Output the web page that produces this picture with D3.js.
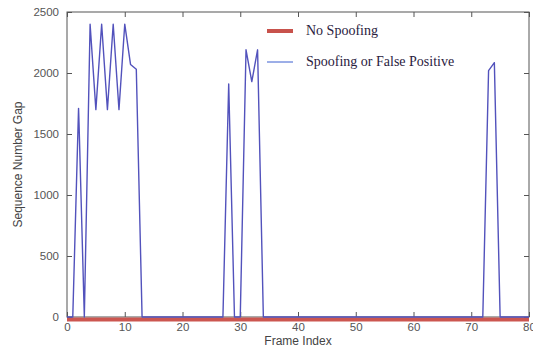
<!DOCTYPE html>
<html>
<head>
<meta charset="utf-8">
<script src="https://cdn.jsdelivr.net/npm/d3@7"></script>
<style>
  body { margin: 0; background: #fff; }
  svg { display: block; }
</style>
</head>
<body>
<div id="chart"></div>
<script>
// spoofing / false positive series
var spoofFrames = [0, 1, 2, 2.1, 3, 4, 5, 6, 7, 8, 9, 10, 11, 12, 13, 27, 28, 29, 30, 31, 32, 33, 34, 72, 73, 74, 75, 80];
var spoofGaps   = [0, 0, 1710, 1560, 0, 2400, 1700, 2400, 1700, 2400, 1700, 2400, 2070, 2030, 0, 0, 1910, 0, 0, 2190, 1930, 2190, 0, 0, 2020, 2085, 0, 0];

// no spoofing series: flat zero
var noSpoofFrames = [0, 80];
var noSpoofGaps   = [0, 0];

var xTicks = [0, 10, 20, 30, 40, 50, 60, 70, 80];
var yTicks = [0, 500, 1000, 1500, 2000, 2500];
var legendLabels = ['No Spoofing', 'Spoofing or False Positive'];

var width = 533, height = 351;
var margin = {left: 67, right: 4, top: 12, bottom: 34};

var svg = d3.select('#chart').append('svg')
  .attr('width', width)
  .attr('height', height);

var x = d3.scaleLinear().domain([0, 80]).range([margin.left, width - margin.right]);
var y = d3.scaleLinear().domain([0, 2500]).range([height - margin.bottom, margin.top]);

var axisColor = '#555';
var tickFont = '"Liberation Sans", Arial, sans-serif';

// frame box
svg.append('rect')
  .attr('x', x(0)).attr('y', y(2500))
  .attr('width', x(80) - x(0)).attr('height', y(0) - y(2500))
  .attr('fill', 'none')
  .attr('stroke', axisColor)
  .attr('stroke-width', 1);

// axes with inward ticks (matlab style)
function styleAxis(g) {
  g.select('.domain').remove();
  g.selectAll('.tick line').attr('stroke', axisColor);
  g.selectAll('.tick text')
    .attr('fill', '#555')
    .attr('font-family', tickFont)
    .attr('font-size', '11.5px');
}

svg.append('g')
  .attr('transform', 'translate(0,' + y(0) + ')')
  .call(d3.axisBottom(x).tickValues(xTicks).tickFormat(d3.format('d')).tickSizeInner(-5).tickPadding(6))
  .call(styleAxis);

svg.append('g')
  .attr('transform', 'translate(0,' + y(2500) + ')')
  .call(d3.axisTop(x).tickValues(xTicks).tickSizeInner(-5).tickFormat(''))
  .call(styleAxis);

svg.append('g')
  .attr('transform', 'translate(' + x(0) + ',0)')
  .call(d3.axisLeft(y).tickValues(yTicks).tickFormat(d3.format('d')).tickSizeInner(-5).tickPadding(8))
  .call(styleAxis);

svg.append('g')
  .attr('transform', 'translate(' + x(80) + ',0)')
  .call(d3.axisRight(y).tickValues(yTicks).tickSizeInner(-5).tickFormat(''))
  .call(styleAxis);

// axis titles
svg.append('text')
  .attr('x', (x(0) + x(80)) / 2)
  .attr('y', 345)
  .attr('text-anchor', 'middle')
  .attr('font-family', tickFont)
  .attr('font-size', '12px')
  .attr('fill', '#444')
  .text('Frame Index');

svg.append('text')
  .attr('transform', 'translate(22,' + ((y(0) + y(2500)) / 2) + ') rotate(-90)')
  .attr('text-anchor', 'middle')
  .attr('font-family', tickFont)
  .attr('font-size', '12px')
  .attr('fill', '#444')
  .text('Sequence Number Gap');

var line = d3.line()
  .x(function(d) { return x(d[0]); })
  .y(function(d) { return y(d[1]); });

// red no spoofing line, thick, sits just under the zero line
svg.append('path')
  .datum(d3.zip(noSpoofFrames, noSpoofGaps))
  .attr('d', line)
  .attr('transform', 'translate(0,2.5)')
  .attr('fill', 'none')
  .attr('stroke', '#cc5650')
  .attr('stroke-width', 4);

svg.append('path')
  .datum(d3.zip(spoofFrames, spoofGaps))
  .attr('d', line)
  .attr('fill', 'none')
  .attr('stroke', '#5252bc')
  .attr('stroke-width', 1.4)
  .attr('stroke-linejoin', 'round');

// legend
var legend = svg.append('g');
var legendColors = ['#c8524c', '#3a5fd0'];
var legendWidths = [4, 1];
legendLabels.forEach(function(label, i) {
  var ly = 31 + i * 31;
  legend.append('line')
    .attr('x1', 267).attr('x2', 293)
    .attr('y1', ly).attr('y2', ly)
    .attr('stroke', legendColors[i])
    .attr('stroke-width', legendWidths[i]);
  legend.append('text')
    .attr('x', 306)
    .attr('y', ly + 4)
    .attr('font-family', '"Liberation Serif", "Times New Roman", serif')
    .attr('font-size', '14px')
    .attr('fill', '#2a2140')
    .text(label);
});
</script>
</body>
</html>
